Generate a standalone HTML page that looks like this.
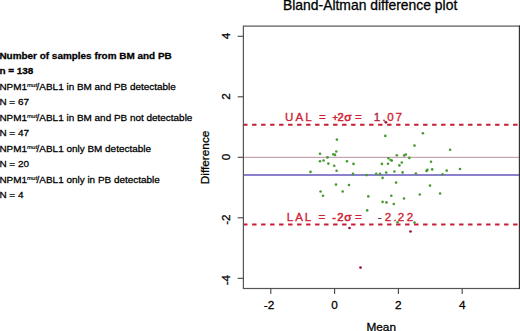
<!DOCTYPE html>
<html><head><meta charset="utf-8"><style>
html,body{margin:0;padding:0;background:#fff;}
body{width:520px;height:331px;overflow:hidden;position:relative;}
svg{position:absolute;left:0;top:0;}
text{font-family:"Liberation Sans",sans-serif;}
.t{fill:#000;stroke:#000;stroke-width:0.28px;}
.r{fill:#d01f35;stroke:#d01f35;stroke-width:0.35px;}
</style></head><body>
<svg width="520" height="331" viewBox="0 0 520 331">
<rect x="0" y="0" width="520" height="331" fill="#fff"/>

<text class="t" x="-0.6" y="58.60" font-size="9.95" font-weight="bold">Number of samples from BM and PB</text>
<text class="t" x="-0.6" y="74.10" font-size="9.95" font-weight="bold">n = 138</text>
<text class="t" x="-0.6" y="89.60" font-size="9.95">NPM1</text>
<text class="t" x="27.1" y="86.80" font-size="6.0" font-style="italic" style="stroke-width:0.2px">mut</text>
<text class="t" x="36.6" y="89.60" font-size="9.95">/ABL1 in BM and PB detectable</text>
<text class="t" x="-0.6" y="105.10" font-size="9.95">N = 67</text>
<text class="t" x="-0.6" y="120.60" font-size="9.95">NPM1</text>
<text class="t" x="27.1" y="117.80" font-size="6.0" font-style="italic" style="stroke-width:0.2px">mut</text>
<text class="t" x="36.6" y="120.60" font-size="9.95">/ABL1 in BM and PB not detectable</text>
<text class="t" x="-0.6" y="136.10" font-size="9.95">N = 47</text>
<text class="t" x="-0.6" y="151.60" font-size="9.95">NPM1</text>
<text class="t" x="27.1" y="148.80" font-size="6.0" font-style="italic" style="stroke-width:0.2px">mut</text>
<text class="t" x="36.6" y="151.60" font-size="9.95">/ABL1 only BM detectable</text>
<text class="t" x="-0.6" y="167.10" font-size="9.95">N = 20</text>
<text class="t" x="-0.6" y="182.60" font-size="9.95">NPM1</text>
<text class="t" x="27.1" y="179.80" font-size="6.0" font-style="italic" style="stroke-width:0.2px">mut</text>
<text class="t" x="36.6" y="182.60" font-size="9.95">/ABL1 only in PB detectable</text>
<text class="t" x="-0.6" y="198.10" font-size="9.95">N = 4</text>
<text class="t" x="283.0" y="9.6" font-size="13.9">Bland-Altman difference plot</text>
<line x1="243.4" y1="157.45" x2="519.5" y2="157.45" stroke="#c6a6b2" stroke-width="1.2"/>
<line x1="243.4" y1="175.0" x2="519.5" y2="175.0" stroke="#8a80cc" stroke-width="1.8"/>
<line x1="243.1" y1="124.7" x2="519.5" y2="124.7" stroke="#c41f36" stroke-width="2.0" stroke-dasharray="4.4 4.6"/>
<line x1="243.1" y1="224.6" x2="519.5" y2="224.6" stroke="#c41f36" stroke-width="2.0" stroke-dasharray="4.4 4.6"/>
<rect x="243.4" y="26.1" width="276.1" height="262.4" fill="none" stroke="#555" stroke-width="1.2"/>
<line x1="519.5" y1="25.5" x2="519.5" y2="289.1" stroke="#333" stroke-width="1.2"/>
<line x1="237.7" y1="36.30" x2="243.4" y2="36.30" stroke="#444" stroke-width="1.1"/>
<text class="t" transform="translate(230.3,35.90) rotate(-90)" text-anchor="middle" font-size="11.8">4</text>
<line x1="237.7" y1="96.80" x2="243.4" y2="96.80" stroke="#444" stroke-width="1.1"/>
<text class="t" transform="translate(230.3,96.40) rotate(-90)" text-anchor="middle" font-size="11.8">2</text>
<line x1="237.7" y1="157.30" x2="243.4" y2="157.30" stroke="#444" stroke-width="1.1"/>
<text class="t" transform="translate(230.3,156.90) rotate(-90)" text-anchor="middle" font-size="11.8">0</text>
<line x1="237.7" y1="217.80" x2="243.4" y2="217.80" stroke="#444" stroke-width="1.1"/>
<text class="t" transform="translate(230.3,219.60) rotate(-90)" text-anchor="middle" font-size="11.8">-2</text>
<line x1="237.7" y1="278.30" x2="243.4" y2="278.30" stroke="#444" stroke-width="1.1"/>
<text class="t" transform="translate(230.3,280.10) rotate(-90)" text-anchor="middle" font-size="11.8">-4</text>
<line x1="270.80" y1="288.5" x2="270.80" y2="294" stroke="#444" stroke-width="1.1"/>
<text class="t" x="269.10" y="309.4" text-anchor="middle" font-size="11.8">-2</text>
<line x1="334.60" y1="288.5" x2="334.60" y2="294" stroke="#444" stroke-width="1.1"/>
<text class="t" x="334.60" y="309.4" text-anchor="middle" font-size="11.8">0</text>
<line x1="398.40" y1="288.5" x2="398.40" y2="294" stroke="#444" stroke-width="1.1"/>
<text class="t" x="398.40" y="309.4" text-anchor="middle" font-size="11.8">2</text>
<line x1="462.20" y1="288.5" x2="462.20" y2="294" stroke="#444" stroke-width="1.1"/>
<text class="t" x="462.20" y="309.4" text-anchor="middle" font-size="11.8">4</text>
<text class="t" transform="translate(208.9,157.4) rotate(-90)" text-anchor="middle" font-size="11.8">Difference</text>
<text class="t" x="381.2" y="330.7" text-anchor="middle" font-size="11.8">Mean</text>
<text class="r" x="289.3" y="121.2" text-anchor="middle" font-size="11.6">U</text>
<text class="r" x="299.45" y="121.2" text-anchor="middle" font-size="11.6">A</text>
<text class="r" x="308.6" y="121.2" text-anchor="middle" font-size="11.6">L</text>
<text class="r" x="322.3" y="121.2" text-anchor="middle" font-size="11.6">=</text>
<text class="r" x="335.1" y="120.60000000000001" text-anchor="middle" font-size="9.2" style="stroke-width:0.5px;">+</text>
<text class="r" x="340.6" y="121.2" text-anchor="middle" font-size="11.2" style="stroke-width:0.55px;">2</text>
<text class="r" x="347.9" y="121.2" text-anchor="middle" font-size="11.8" style="stroke-width:0.55px;">σ</text>
<text class="r" x="358.4" y="121.2" text-anchor="middle" font-size="11.6">=</text>
<text class="r" x="377.1" y="121.2" text-anchor="middle" font-size="11.6" style="fill:#a8243e;stroke:#a8243e;">1</text>
<text class="r" x="384.2" y="121.2" text-anchor="middle" font-size="11.6">.</text>
<text class="r" x="390.5" y="121.2" text-anchor="middle" font-size="11.6">0</text>
<text class="r" x="398.85" y="121.2" text-anchor="middle" font-size="11.6">7</text>
<text class="r" x="290.1" y="221.3" text-anchor="middle" font-size="11.6">L</text>
<text class="r" x="299.15" y="221.3" text-anchor="middle" font-size="11.6">A</text>
<text class="r" x="308.0" y="221.3" text-anchor="middle" font-size="11.6">L</text>
<text class="r" x="322.0" y="221.3" text-anchor="middle" font-size="11.6">=</text>
<text class="r" x="334.0" y="221.3" text-anchor="middle" font-size="11.0" style="stroke-width:0.5px;">-</text>
<text class="r" x="340.3" y="221.3" text-anchor="middle" font-size="11.2" style="stroke-width:0.55px;">2</text>
<text class="r" x="347.9" y="221.3" text-anchor="middle" font-size="11.8" style="stroke-width:0.55px;">σ</text>
<text class="r" x="358.3" y="221.3" text-anchor="middle" font-size="11.6">=</text>
<text class="r" x="379.6" y="221.3" text-anchor="middle" font-size="11.6" style="fill:#553040;stroke:#553040;">-</text>
<text class="r" x="388.0" y="221.3" text-anchor="middle" font-size="11.6">2</text>
<text class="r" x="395.0" y="221.3" text-anchor="middle" font-size="11.6">.</text>
<text class="r" x="401.0" y="221.3" text-anchor="middle" font-size="11.6">2</text>
<text class="r" x="409.9" y="221.3" text-anchor="middle" font-size="11.6">2</text>
<line x1="383.6" y1="119.9" x2="385.6" y2="122.0" stroke="#b52a48" stroke-width="0.9"/>
<circle cx="336.9" cy="139.6" r="1.3" fill="#469a30"/>
<circle cx="320.0" cy="153.7" r="1.3" fill="#469a30"/>
<circle cx="336.3" cy="151.5" r="1.3" fill="#469a30"/>
<circle cx="333.3" cy="154.3" r="1.3" fill="#469a30"/>
<circle cx="335.0" cy="154.9" r="1.3" fill="#469a30"/>
<circle cx="327.5" cy="157.4" r="1.3" fill="#469a30"/>
<circle cx="320.0" cy="161.2" r="1.3" fill="#469a30"/>
<circle cx="323.6" cy="160.5" r="1.3" fill="#469a30"/>
<circle cx="328.3" cy="163.6" r="1.3" fill="#469a30"/>
<circle cx="334.2" cy="165.7" r="1.3" fill="#469a30"/>
<circle cx="347.0" cy="161.3" r="1.3" fill="#469a30"/>
<circle cx="353.5" cy="163.9" r="1.3" fill="#469a30"/>
<circle cx="310.5" cy="171.9" r="1.3" fill="#469a30"/>
<circle cx="336.6" cy="170.7" r="1.3" fill="#469a30"/>
<circle cx="353.0" cy="173.9" r="1.3" fill="#469a30"/>
<circle cx="336.0" cy="184.6" r="1.3" fill="#469a30"/>
<circle cx="349.0" cy="185.0" r="1.3" fill="#469a30"/>
<circle cx="320.6" cy="191.5" r="1.3" fill="#469a30"/>
<circle cx="323.0" cy="195.7" r="1.3" fill="#469a30"/>
<circle cx="342.7" cy="191.5" r="1.3" fill="#469a30"/>
<circle cx="385.3" cy="135.9" r="1.3" fill="#469a30"/>
<circle cx="396.8" cy="155.2" r="1.3" fill="#469a30"/>
<circle cx="404.2" cy="155.4" r="1.3" fill="#469a30"/>
<circle cx="405.8" cy="154.5" r="1.3" fill="#469a30"/>
<circle cx="388.4" cy="158.2" r="1.3" fill="#469a30"/>
<circle cx="390.6" cy="160.0" r="1.3" fill="#469a30"/>
<circle cx="391.8" cy="160.6" r="1.3" fill="#469a30"/>
<circle cx="409.3" cy="157.9" r="1.3" fill="#469a30"/>
<circle cx="381.9" cy="163.9" r="1.3" fill="#469a30"/>
<circle cx="388.0" cy="163.7" r="1.3" fill="#469a30"/>
<circle cx="401.8" cy="162.5" r="1.3" fill="#469a30"/>
<circle cx="399.4" cy="165.4" r="1.3" fill="#469a30"/>
<circle cx="366.5" cy="175.1" r="1.3" fill="#469a30"/>
<circle cx="376.2" cy="173.9" r="1.3" fill="#469a30"/>
<circle cx="380.0" cy="173.9" r="1.3" fill="#469a30"/>
<circle cx="386.2" cy="172.6" r="1.3" fill="#469a30"/>
<circle cx="382.6" cy="177.9" r="1.3" fill="#469a30"/>
<circle cx="394.4" cy="171.5" r="1.3" fill="#469a30"/>
<circle cx="402.6" cy="172.4" r="1.3" fill="#469a30"/>
<circle cx="396.1" cy="182.6" r="1.3" fill="#469a30"/>
<circle cx="368.3" cy="196.4" r="1.3" fill="#469a30"/>
<circle cx="391.3" cy="195.8" r="1.3" fill="#469a30"/>
<circle cx="404.0" cy="198.5" r="1.3" fill="#469a30"/>
<circle cx="414.5" cy="145.6" r="1.3" fill="#469a30"/>
<circle cx="422.9" cy="133.2" r="1.3" fill="#469a30"/>
<circle cx="450.1" cy="149.8" r="1.3" fill="#469a30"/>
<circle cx="431.0" cy="161.7" r="1.3" fill="#469a30"/>
<circle cx="426.5" cy="170.9" r="1.3" fill="#469a30"/>
<circle cx="427.4" cy="169.9" r="1.3" fill="#469a30"/>
<circle cx="432.2" cy="169.4" r="1.3" fill="#469a30"/>
<circle cx="446.7" cy="170.6" r="1.3" fill="#469a30"/>
<circle cx="460.0" cy="169.0" r="1.3" fill="#469a30"/>
<circle cx="415.9" cy="173.5" r="1.3" fill="#469a30"/>
<circle cx="442.5" cy="174.2" r="1.3" fill="#469a30"/>
<circle cx="430.0" cy="185.6" r="1.3" fill="#469a30"/>
<circle cx="419.8" cy="194.5" r="1.3" fill="#469a30"/>
<circle cx="440.1" cy="193.5" r="1.3" fill="#469a30"/>
<circle cx="382.6" cy="201.9" r="1.3" fill="#469a30"/>
<circle cx="386.5" cy="202.4" r="1.3" fill="#469a30"/>
<circle cx="393.8" cy="204.0" r="1.3" fill="#469a30"/>
<circle cx="367.2" cy="210.4" r="1.3" fill="#469a30"/>
<circle cx="397.6" cy="222.2" r="1.3" fill="#469a30"/>
<circle cx="414.5" cy="222.6" r="1.3" fill="#469a30"/>
<circle cx="349.5" cy="228.0" r="1.35" fill="#a0132f"/>
<circle cx="410.5" cy="231.5" r="1.35" fill="#a0132f"/>
<circle cx="360.5" cy="267.6" r="1.35" fill="#a0132f"/>
<circle cx="385.9" cy="122.3" r="1.35" fill="#a0132f"/>
</svg>
</body></html>
